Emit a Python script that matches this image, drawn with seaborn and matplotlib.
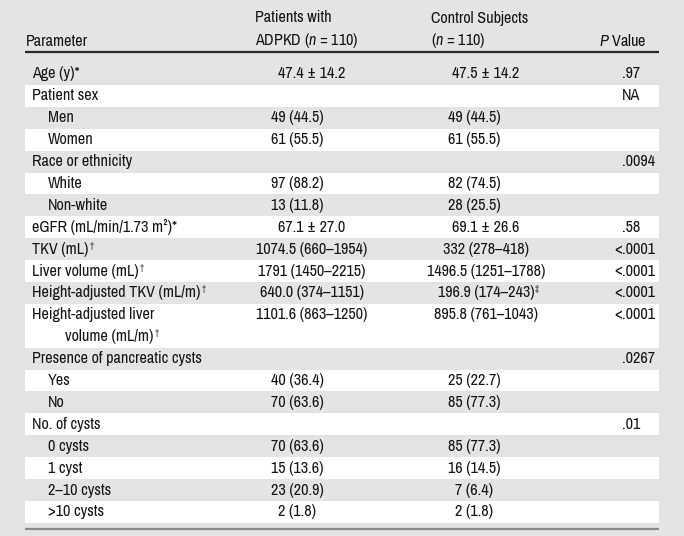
import numpy as np
import pandas as pd
import seaborn as sns
import matplotlib.pyplot as plt

# Table contents; '^' marks a small superscript footnote sign
parameters = ['Age (y)*', 'Patient sex', 'Men', 'Women', 'Race or ethnicity', 'White', 'Non-white',
              'eGFR (mL/min/1.73 m²)*', 'TKV (mL)^†', 'Liver volume (mL)^†',
              'Height-adjusted TKV (mL/m)^†', 'Height-adjusted liver\nvolume (mL/m)^†',
              'Presence of pancreatic cysts', 'Yes', 'No', 'No. of cysts',
              '0 cysts', '1 cyst', '2–10 cysts', '>10 cysts']
indent = [0, 0, 1, 1, 0, 1, 1, 0, 0, 0, 0, 0, 0, 1, 1, 0, 1, 1, 1, 1]
patients = ['47.4 ± 14.2', '', '49 (44.5)', '61 (55.5)', '', '97 (88.2)', '13 (11.8)', '67.1 ± 27.0',
            '1074.5 (660–1954)', '1791 (1450–2215)', '640.0 (374–1151)', '1101.6 (863–1250)', '',
            '40 (36.4)', '70 (63.6)', '', '70 (63.6)', '15 (13.6)', '23 (20.9)', '2 (1.8)']
controls = ['47.5 ± 14.2', '', '49 (44.5)', '61 (55.5)', '', '82 (74.5)', '28 (25.5)', '69.1 ± 26.6',
            '332 (278–418)', '1496.5 (1251–1788)', '196.9 (174–243)^‡', '895.8 (761–1043)', '',
            '25 (22.7)', '85 (77.3)', '', '85 (77.3)', '16 (14.5)', '7 (6.4)', '2 (1.8)']
p_values = ['.97', 'NA', '', '', '.0094', '', '', '.58', '<.0001', '<.0001', '<.0001', '<.0001',
            '.0267', '', '', '.01', '', '', '', '']
headers = ['Parameter', 'Patients with\nADPKD ($n$ = 110)', 'Control Subjects\n($n$ = 110)', '$P$ Value']

sns.set_theme(style='white')
plt.rcParams['font.family'] = ['Archivo Narrow', 'DejaVu Sans']
plt.rcParams['mathtext.fontset'] = 'custom'
plt.rcParams['mathtext.rm'] = 'Archivo Narrow'
plt.rcParams['mathtext.it'] = 'Archivo Narrow:italic'
plt.rcParams['font.size'] = 11.6
ink = '#161616'
bg = '#e4e4e4'

fig, ax = plt.subplots(figsize=(6.84, 5.36), dpi=100)
fig.subplots_adjust(left=0, right=1, bottom=0, top=1)
fig.patch.set_facecolor(bg)
ax.set_facecolor(bg)
ax.set_xlim(0, 684)
ax.set_ylim(536, 0)
ax.axis('off')
renderer = fig.canvas.get_renderer()


def cell(x, y, s, ha='left'):
    # text with an optional small superscript footnote sign after it
    body, _, sup = s.partition('^')
    t = ax.text(x, y, body, ha=ha, va='center', color=ink)
    if sup:
        bb = t.get_window_extent(renderer).transformed(ax.transData.inverted())
        ax.text(bb.x1 + 0.8, y - 4, sup, ha='left', va='center', color=ink, fontsize=6.5)


left, right = 25, 659
row_h = 21.9
top0 = 63

# column headers
ax.text(26, 41, headers[0], ha='left', va='center', color=ink)
for x, h in zip([255, 431], headers[1:3]):
    l1, l2 = h.split('\n')
    ax.text(x, 18, l1, ha='left', va='center', color=ink)
    ax.text(x, 41, l2, ha='left', va='center', color=ink)
ax.text(647, 41, headers[3], ha='right', va='center', color=ink)
ax.plot([left, right], [52, 52], color='#2a2a2a', lw=1.6, solid_capstyle='butt')

units = np.array([2 if '\n' in p else 1 for p in parameters])
tops = top0 + row_h * np.concatenate([[0], np.cumsum(units)[:-1]])

for i, (par, ind, pa, co, pv) in enumerate(zip(parameters, indent, patients, controls, p_values)):
    top = tops[i]
    h = units[i] * row_h
    if i % 2 == 1:
        ax.barh(top + h / 2, right - left, left=left, height=h, color='white', lw=0)
    yc = top + row_h / 2
    lines = par.split('\n')
    cell(32 + 16 * ind, yc, lines[0])
    if len(lines) > 1:
        cell(65, yc + row_h, lines[1])
    # count rows sit a bit left of the ranges / mean rows
    count_row = ('±' not in pa) and ('–' not in pa)
    if pa:
        cell(297 if count_row else 312, yc, pa, ha='center')
    if co:
        cell(474 if count_row else 486, yc, co, ha='center')
    if pv.startswith('<'):
        ax.text(622, yc, '<', ha='right', va='center', color=ink)
        ax.text(622, yc, pv[1:], ha='left', va='center', color=ink)
    elif pv:
        ax.text(622, yc, pv, ha='left', va='center', color=ink)

bottom = tops[-1] + row_h
ax.plot([left, right], [bottom + 6, bottom + 6], color='#8a8a8a', lw=1.6, solid_capstyle='butt')

plt.savefig('out.png', dpi=100, facecolor=bg)
